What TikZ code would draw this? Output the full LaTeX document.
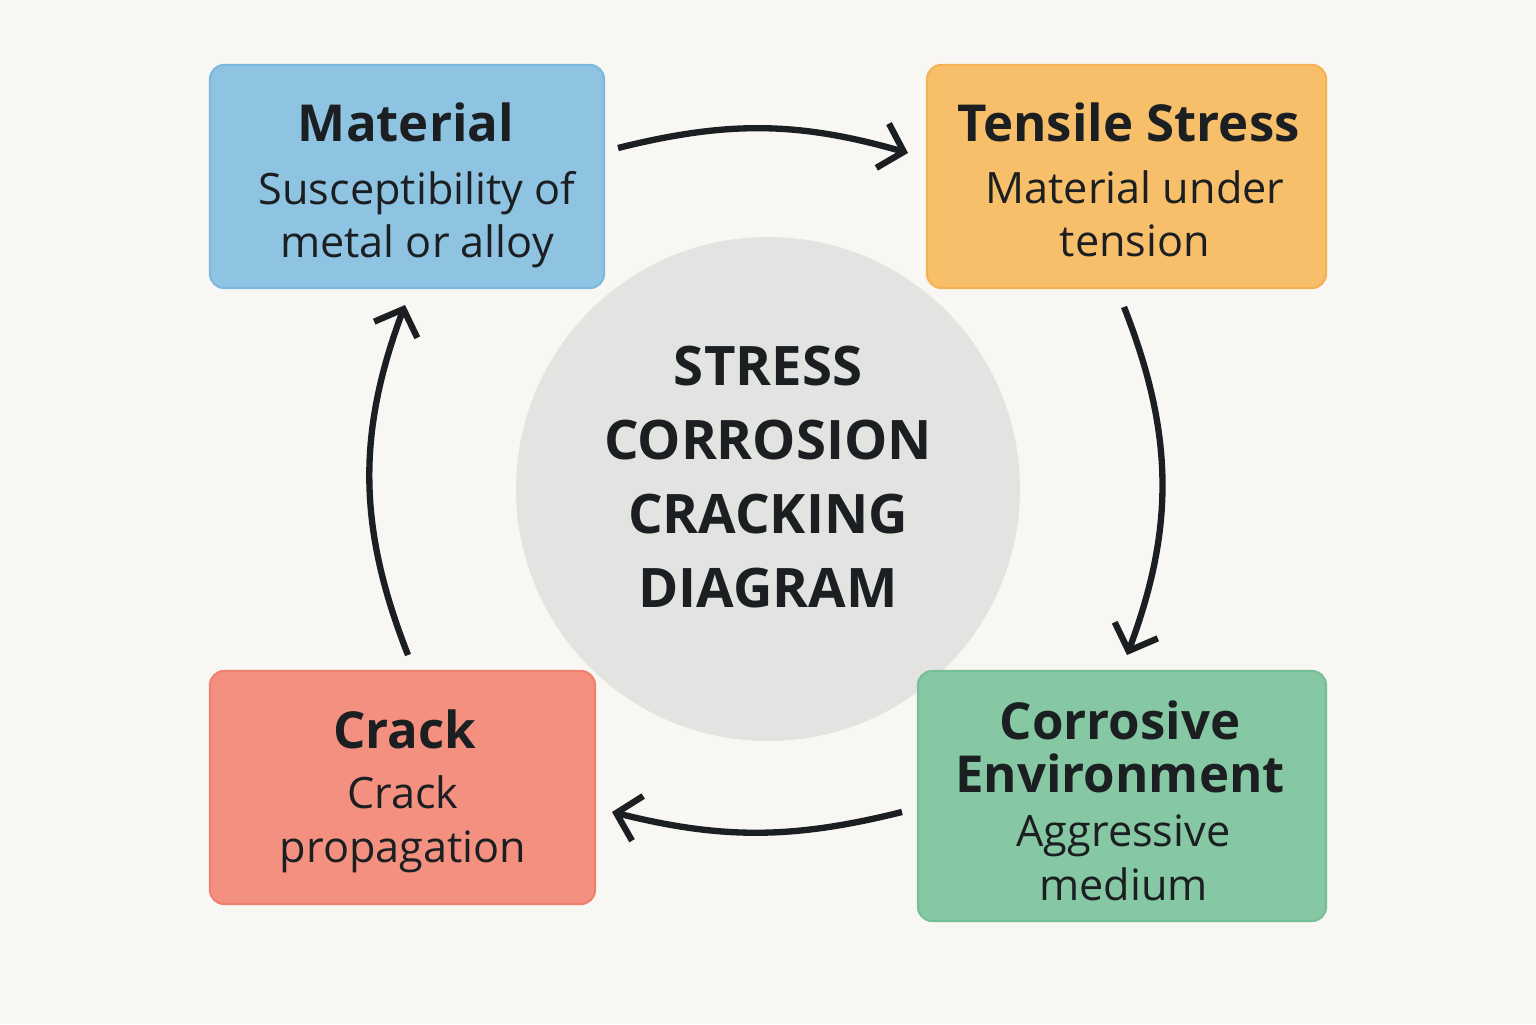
\documentclass[tikz,border=0pt]{standalone}
\usepackage{fontspec}
\setmainfont{Open Sans}
\usepackage{tikz}
\usetikzlibrary{arrows.meta,positioning,shapes}
\definecolor{paper}{HTML}{F8F7F4}
\definecolor{ink}{HTML}{1B1F22}
\definecolor{matblue}{HTML}{8EC3E2}
\definecolor{matline}{HTML}{7DB9DE}
\definecolor{tenorange}{HTML}{F8BF6A}
\definecolor{tenline}{HTML}{F4B254}
\definecolor{envgreen}{HTML}{86C8A3}
\definecolor{envline}{HTML}{76BF96}
\definecolor{crkred}{HTML}{F4907F}
\definecolor{crkline}{HTML}{EF7F6E}
\definecolor{disc}{HTML}{E3E3E2}
\tikzset{
  box/.style   = {draw, line width=0.6pt, rounded corners=4pt, inner sep=0pt},
  ttl/.style   = {font=\fontsize{14.5}{14.8}\selectfont\bfseries, text=ink, anchor=base, align=center},
  sub/.style   = {font=\fontsize{12.3}{15.1}\selectfont, text=ink, anchor=base, align=center},
  flow/.style  = {-{Straight Barb[length=2.2mm,width=4.6mm]}, line width=1.8pt, draw=ink},
}

\begin{document}
\begin{tikzpicture}
    \fill[paper] (0,0) rectangle (15.36,10.24);
    \useasboundingbox (0,0) rectangle (15.36,10.24);

    \node[circle, fill=disc, minimum size=5.04cm] (scc) at (7.68,5.35) {};
    \node[font=\fontsize{15.5}{21}\selectfont\bfseries, text=ink, anchor=base, align=center] (sccT) at (7.68,4.17)
      {STRESS\\CORROSION\\CRACKING\\DIAGRAM};

    \node[box, fill=matblue, draw=matline, minimum width=3.94cm, minimum height=2.23cm] (mat) at (4.07,8.475) {};
    \node[box, fill=tenorange, draw=tenline, minimum width=3.99cm, minimum height=2.23cm] (ten) at (11.265,8.475) {};
    \node[box, fill=envgreen, draw=envline, minimum width=4.08cm, minimum height=2.50cm] (env) at (11.22,2.28) {};
    \node[box, fill=crkred, draw=crkline, minimum width=3.85cm, minimum height=2.33cm] (crk) at (4.025,2.365) {};

    \node[ttl] (matT) at (4.06,8.82) {Material};
    \node[sub] (matS) at (4.17,7.66) {Susceptibility of\\metal or alloy};
    \node[ttl] (tenT) at (11.285,8.82) {Tensile Stress};
    \node[sub] (tenS) at (11.35,7.67) {Material under\\tension};
    \node[ttl] (envT) at (11.20,2.32) {Corrosive\\Environment};
    \node[sub] (envS) at (11.235,1.24) {Aggressive\\medium};
    \node[ttl] (crkT) at (4.05,2.76) {Crack};
    \node[sub] (crkS) at (4.03,1.62) {Crack\\propagation};

    % arrow ends
    \coordinate (a1) at (6.18,8.76);
    \coordinate (b1) at (9.08,8.71);
    \coordinate (a2) at (11.24,7.17);
    \coordinate (b2) at (11.27,3.69);
    \coordinate (a3) at (9.02,2.12);
    \coordinate (b3) at (6.12,2.12);
    \coordinate (a4) at (4.08,3.69);
    \coordinate (b4) at (4.05,7.19);

    \draw[flow] (a1) to[bend left=15] (b1);
    \draw[flow] (a2) to[bend left=21] (b2);
    \draw[flow] (a3) to[bend left=14] (b3);
    \draw[flow] (a4) to[bend left=21] (b4);
\end{tikzpicture}
\end{document}
